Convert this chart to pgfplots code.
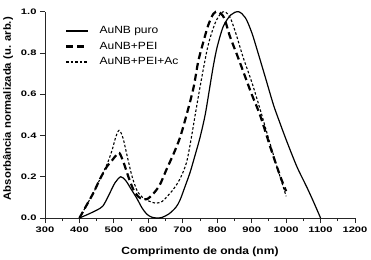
\documentclass[border=0pt]{standalone}
\usepackage{fontspec}
\usepackage{graphicx}
\setmainfont{Liberation Sans}
\usepackage{pgfplots}
\pgfplotsset{compat=1.18}
\newcommand{\sx}[2]{\scalebox{#1}[1]{#2}}
\begin{document}
\begin{tikzpicture}
\begin{axis}[
  scale only axis, width=310bp, height=206.3bp,
  xmin=300, xmax=1200, ymin=0, ymax=1,
  axis x line=bottom, axis y line=left,
  axis line style={-, line width=0.9bp, black!85},
  tick align=outside,
  major tick length=5bp, minor tick length=3bp,
  every tick/.style={line width=0.9bp, black!85},
  xtick={300,400,...,1200}, minor xtick={350,450,...,1150},
  ytick={0,0.2,...,1.0},
  /pgf/number format/assume math mode=true,
  /pgf/number format/1000 sep={},
  xticklabel={\sx{1.4}{\pgfmathprintnumber{\tick}}},
  yticklabel={\sx{1.4}{\pgfmathprintnumber[fixed,fixed zerofill,precision=1]{\tick}}},
  ticklabel style={font=\bfseries\fontsize{8}{9}\selectfont},
  xlabel={\sx{1.15}{Comprimento de onda (nm)}},
  ylabel={\sx{1.08}{Absorbância normalizada (u. arb.)}},
  xlabel style={font=\bfseries\fontsize{10.5}{12}\selectfont, at={(axis description cs:0.5,0)}, anchor=base, yshift=-36bp},
  ylabel style={font=\bfseries\fontsize{10.5}{12}\selectfont, at={(axis description cs:-0.119,0.53)}, anchor=center},
  clip=false,
  legend cell align=left,
  legend image code/.code={\draw[#1] (0bp,0bp) -- (22bp,0bp);},
  legend style={draw=none, fill=none, at={(axis description cs:0.065,0.945)}, anchor=north west,
    font=\fontsize{10.5}{12}\selectfont, inner sep=0pt, row sep=0pt,
    nodes={text height=7.5bp, text depth=2bp, inner sep=3bp},
    /tikz/every odd column/.append style={column sep=7bp}},
]
\addplot[black, line width=1.2bp, smooth, tension=0.5] coordinates {
(400,0) (425,0.018) (450,0.038) (468,0.058) (485,0.11) (503,0.17) (520,0.20) (535,0.18)
(550,0.14) (567,0.094) (582,0.048) (596,0.018) (610,0.004) (625,0) (640,0.003) (660,0.02)
(680,0.052) (692,0.087) (706,0.15) (721,0.22) (735,0.30) (750,0.39) (765,0.50) (778,0.63)
(789,0.74) (800,0.83) (818,0.93) (840,0.985) (862,1.0) (882,0.97) (900,0.90) (915,0.82)
(940,0.68) (963,0.55) (980,0.47) (1000,0.38) (1031,0.25) (1060,0.15) (1080,0.077) (1100,0)
};
\addlegendentry{\sx{1.15}{AuNB puro}}
\addplot[black, line width=2.2bp, dash pattern=on 7bp off 4bp, smooth, tension=0.5] coordinates {
(400,0) (420,0.06) (440,0.12) (460,0.19) (480,0.25) (495,0.28) (507,0.305) (516,0.315)
(528,0.27) (542,0.20) (556,0.14) (570,0.105) (585,0.09) (597,0.092) (613,0.115) (633,0.16)
(654,0.24) (673,0.31) (692,0.39) (711,0.50) (731,0.63) (745,0.76) (760,0.855) (774,0.935)
(789,0.99) (803,1.0) (820,0.97) (837,0.88) (860,0.78) (880,0.69) (900,0.60) (924,0.50)
(953,0.35) (975,0.24) (988,0.18) (1000,0.13)
};
\addlegendentry{\sx{1.15}{AuNB+PEI}}
\addplot[black, line width=1.1bp, dash pattern=on 2.5bp off 2bp, smooth, tension=0.5] coordinates {
(400,0) (420,0.06) (440,0.12) (460,0.19) (480,0.26) (495,0.33) (505,0.39) (515,0.425)
(526,0.39) (540,0.29) (553,0.20) (568,0.13) (583,0.10) (600,0.083) (622,0.072) (640,0.08)
(655,0.105) (673,0.14) (692,0.19) (711,0.27) (726,0.40) (736,0.50) (755,0.68) (774,0.84)
(794,0.945) (810,0.99) (822,1.0) (838,0.97) (855,0.89) (875,0.78) (900,0.66) (924,0.53)
(950,0.38) (975,0.24) (990,0.16) (1000,0.105)
};
\addlegendentry{\sx{1.15}{AuNB+PEI+Ac}}
\end{axis}
\pgfresetboundingbox
\useasboundingbox (-45bp,-42bp) rectangle (326bp,218bp);
\end{tikzpicture}
\end{document}
